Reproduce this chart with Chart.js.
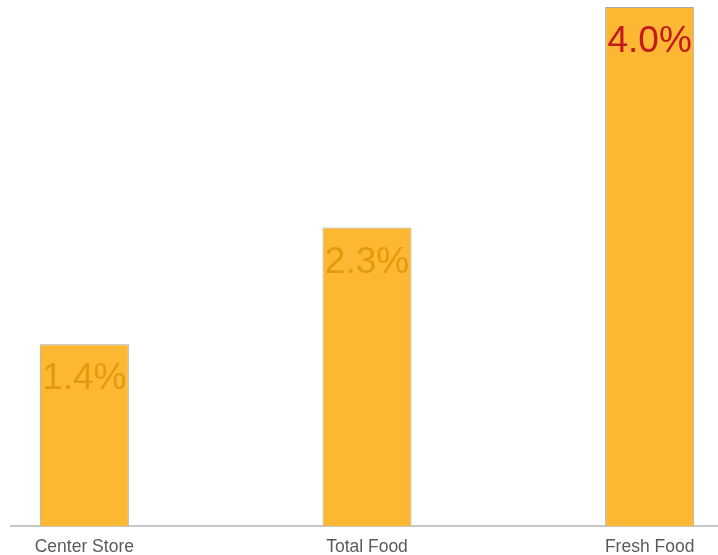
<!DOCTYPE html>
<html>
<head>
<meta charset="utf-8">
<script src="https://cdn.jsdelivr.net/npm/chart.js@4.4.1/dist/chart.umd.min.js"></script>
<style>
    html, body { margin: 0; padding: 0; background: #fff; overflow: hidden; }
    #wrap { position: absolute; left: 10px; top: 0; width: 708px; height: 555px; overflow: hidden; }
    #canvasBox { position: absolute; left: -67px; top: 0; width: 848px; height: 555px; }
</style>
</head>
<body>
<div id="wrap">
    <div id="canvasBox"><canvas id="graficoCrescimento"></canvas></div>
</div>
<script>
const categorias = ['Center Store', 'Total Food', 'Fresh Food'];
const crescimento = [1.4, 2.3, 4.0];
const rotulos = ['1.4%', '2.3%', '4.0%'];

document.addEventListener('DOMContentLoaded', () => {
    const ctx = document.getElementById('graficoCrescimento').getContext('2d');

    // desenha o valor dentro do topo de cada barra
    const rotulosBarras = {
        id: 'rotulosBarras',
        afterDatasetsDraw(chart) {
            const meta = chart.getDatasetMeta(0);
            const cores = chart.data.datasets[0].labelColors;
            const c = chart.ctx;
            c.save();
            c.font = '37px "Liberation Sans", Arial, sans-serif';
            c.textAlign = 'center';
            c.textBaseline = 'alphabetic';
            meta.data.forEach((bar, i) => {
                c.fillStyle = cores[i];
                c.fillText(rotulos[i], bar.x, bar.y + 45);
            });
            c.restore();
        }
    };

    new Chart(ctx, {
        type: 'bar',
        data: {
            labels: categorias,
            datasets: [{
                data: crescimento,
                backgroundColor: '#FCB833',
                borderColor: '#ABABAB',
                borderWidth: 1,
                barPercentage: 0.315,
                categoryPercentage: 1,
                labelColors: ['#E39A10', '#E39A10', '#C41A1E']
            }]
        },
        options: {
            responsive: true,
            maintainAspectRatio: false,
            animation: false,
            layout: { padding: { top: 7, left: 0, right: 0, bottom: 0 } },
            scales: {
                x: {
                    grid: { display: false },
                    border: { display: true, color: '#C8C8C8', width: 2 },
                    ticks: {
                        color: '#5A5A5A',
                        padding: 3,
                        maxRotation: 0,
                        font: { family: '"Liberation Sans", Arial, sans-serif', size: 17.5 }
                    },
                    afterFit(scale) { scale.height = 29; }
                },
                y: {
                    display: false,
                    min: 0,
                    max: 4.0
                }
            },
            plugins: {
                legend: { display: false },
                tooltip: { enabled: false }
            }
        },
        plugins: [rotulosBarras]
    });
});
</script>
</body>
</html>
